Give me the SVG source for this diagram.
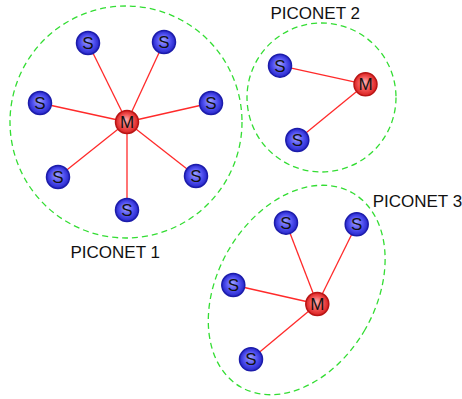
<svg xmlns="http://www.w3.org/2000/svg" width="462" height="399" viewBox="0 0 462 399">
<defs>
<radialGradient id="gS" cx="50%" cy="50%" r="50%" fx="45%" fy="40%">
<stop offset="0" stop-color="#a0a0ff"/>
<stop offset="0.6" stop-color="#5050f0"/>
<stop offset="1" stop-color="#2626c8"/>
</radialGradient>
<radialGradient id="gM" cx="50%" cy="50%" r="50%" fx="45%" fy="40%">
<stop offset="0" stop-color="#ffb0b0"/>
<stop offset="0.6" stop-color="#f05050"/>
<stop offset="1" stop-color="#d82020"/>
</radialGradient>
</defs>
<style>
.area{fill:none;stroke:#33dd33;stroke-width:1.3;stroke-dasharray:6 4}
.link{stroke:#ff2a2a;stroke-width:1.3}
.s{fill:url(#gS);stroke:#1c1caa;stroke-width:1.5}
.m{fill:url(#gM);stroke:#b81515;stroke-width:1.5}
.nt{font-family:"Liberation Sans",Arial,sans-serif;font-size:17px;fill:#111;text-anchor:middle;dominant-baseline:central}
.lbl{font-family:"Liberation Sans",Arial,sans-serif;font-size:17px;fill:#111}
</style>
<rect width="462" height="399" fill="#fff"/>
<g id="piconets">
<circle id="area1" class="area" cx="126" cy="122" r="116"/>
<circle id="area2" class="area" cx="321.5" cy="97.5" r="74.5"/>
<ellipse id="area3" class="area" cx="296.7" cy="290" rx="79" ry="112" transform="rotate(30 296.7 290)"/>
</g>
<g id="connectors">
<line class="link" x1="127" y1="122" x2="88" y2="43"/>
<line class="link" x1="127" y1="122" x2="164" y2="42"/>
<line class="link" x1="127" y1="122" x2="40" y2="103"/>
<line class="link" x1="127" y1="122" x2="211" y2="103"/>
<line class="link" x1="127" y1="122" x2="58" y2="177"/>
<line class="link" x1="127" y1="122" x2="196" y2="176"/>
<line class="link" x1="127" y1="122" x2="127" y2="210"/>
<line class="link" x1="365.5" y1="84.3" x2="280" y2="65.7"/>
<line class="link" x1="365.5" y1="84.3" x2="297.3" y2="140"/>
<line class="link" x1="317.3" y1="304" x2="286" y2="222.7"/>
<line class="link" x1="317.3" y1="304" x2="356.7" y2="224.3"/>
<line class="link" x1="317.3" y1="304" x2="233.3" y2="285"/>
<line class="link" x1="317.3" y1="304" x2="251" y2="359.3"/>
</g>
<g id="m1"><circle class="m" cx="127" cy="122" r="11.5"/><text class="nt" x="127" y="122.5">M</text></g>
<g id="s1a"><circle class="s" cx="88" cy="43" r="11.5"/><text class="nt" x="88" y="43.5">S</text></g>
<g id="s1b"><circle class="s" cx="164" cy="42" r="11.5"/><text class="nt" x="164" y="42.5">S</text></g>
<g id="s1c"><circle class="s" cx="40" cy="103" r="11.5"/><text class="nt" x="40" y="103.5">S</text></g>
<g id="s1d"><circle class="s" cx="211" cy="103" r="11.5"/><text class="nt" x="211" y="103.5">S</text></g>
<g id="s1e"><circle class="s" cx="58" cy="177" r="11.5"/><text class="nt" x="58" y="177.5">S</text></g>
<g id="s1f"><circle class="s" cx="196" cy="176" r="11.5"/><text class="nt" x="196" y="176.5">S</text></g>
<g id="s1g"><circle class="s" cx="127" cy="210" r="11.5"/><text class="nt" x="127" y="210.5">S</text></g>
<g id="m2"><circle class="m" cx="365.5" cy="84.3" r="11.5"/><text class="nt" x="365.5" y="84.8">M</text></g>
<g id="s2a"><circle class="s" cx="280" cy="65.7" r="11.5"/><text class="nt" x="280" y="66.2">S</text></g>
<g id="s2b"><circle class="s" cx="297.3" cy="140" r="11.5"/><text class="nt" x="297.3" y="140.5">S</text></g>
<g id="m3"><circle class="m" cx="317.3" cy="304" r="11.5"/><text class="nt" x="317.3" y="304.5">M</text></g>
<g id="s3a"><circle class="s" cx="286" cy="222.7" r="11.5"/><text class="nt" x="286" y="223.2">S</text></g>
<g id="s3b"><circle class="s" cx="356.7" cy="224.3" r="11.5"/><text class="nt" x="356.7" y="224.8">S</text></g>
<g id="s3c"><circle class="s" cx="233.3" cy="285" r="11.5"/><text class="nt" x="233.3" y="285.5">S</text></g>
<g id="s3d"><circle class="s" cx="251" cy="359.3" r="11.5"/><text class="nt" x="251" y="359.8">S</text></g>
<g id="labels">
<text class="lbl" x="70.5" y="258.3">PICONET 1</text>
<text class="lbl" x="270.5" y="19">PICONET 2</text>
<text class="lbl" x="372.7" y="206.7">PICONET 3</text>
</g>
</svg>
